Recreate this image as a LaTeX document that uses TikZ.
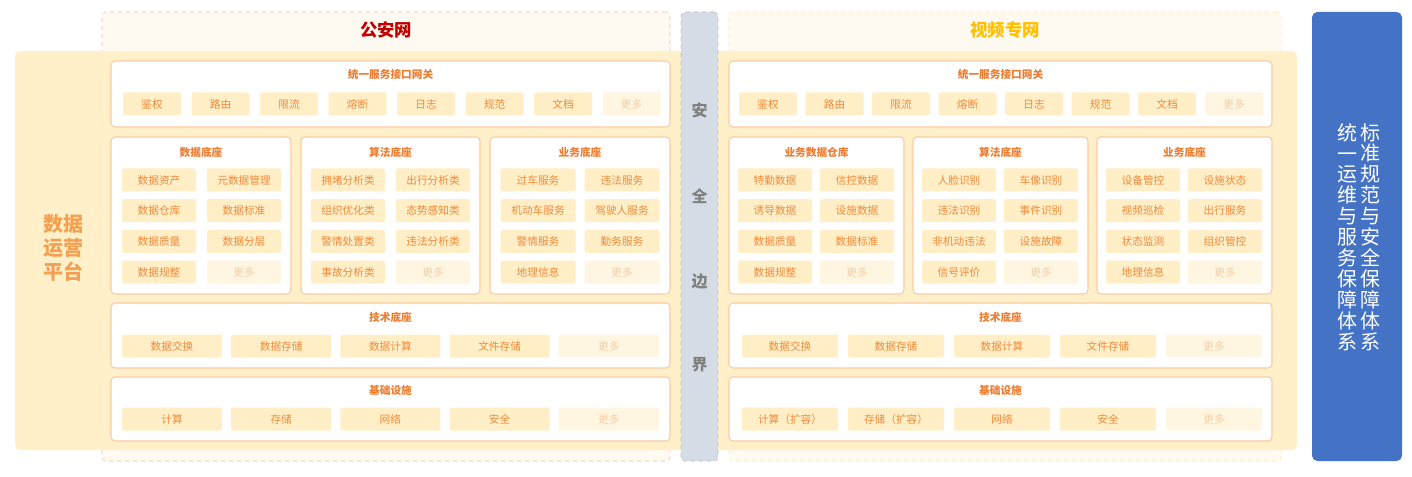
\documentclass[tikz,border=0pt]{standalone}
\usepackage{fontspec}
\setmainfont{Noto Sans CJK SC}
\usetikzlibrary{positioning}
\definecolor{platfill}{HTML}{FFF0CA}
\definecolor{panelline}{HTML}{F8CBA5}
\definecolor{itemfill}{HTML}{FFEEC6}
\definecolor{itemtext}{HTML}{EF8B3B}
\definecolor{morefill}{HTML}{FFF6E1}
\definecolor{moretext}{HTML}{F6CDA5}
\definecolor{titletext}{HTML}{ED7D31}
\definecolor{netfill}{HTML}{FFFAF1}
\definecolor{boundfill}{HTML}{D6DCE5}
\definecolor{stdblue}{HTML}{4472C4}
\def\px{0.75pt}

\begin{document}
\begin{tikzpicture}[
    x=0.75pt, y=-0.75pt,
    panel/.style={draw=panelline, fill=white, rounded corners=3pt, line width=0.8pt, inner sep=0},
    item/.style={fill=itemfill, text=itemtext, rounded corners=1.5pt, minimum height=23*\px, inner sep=0, font=\fontsize{8}{9}\selectfont},
    more/.style={item, fill=morefill, text=moretext},
    ptitle/.style={text=titletext, font=\fontsize{8}{9}\selectfont\bfseries},
    nettitle/.style={font=\fontsize{13}{15}\selectfont\bfseries}
]
\useasboundingbox (0,0) rectangle (1412,477);

% Networks and boundary
\node[draw={rgb,255:red,244;green,184;blue,184}, dashed, fill=netfill, rounded corners=3pt, minimum width=568*\px, minimum height=449*\px, inner sep=0] (netL) at (386,236.5) {};
\node[draw={rgb,255:red,255;green,230;blue,170}, dashed, fill=netfill, rounded corners=3pt, minimum width=552*\px, minimum height=449*\px, inner sep=0] (netR) at (1005,236.5) {};
\node[nettitle, text={rgb,255:red,192;green,0;blue,0}] (netLt) at (386,30) {公安网};
\node[nettitle, text={rgb,255:red,255;green,192;blue,0}] (netRt) at (1005,30) {视频专网};

% Platform
\node[fill=platfill, rounded corners=4pt, minimum width=1282*\px, minimum height=399*\px, inner sep=0] (plat) at (656,250.5) {};
\node[text={rgb,255:red,244;green,160;blue,80}, align=center, font=\fontsize{15}{18}\selectfont\bfseries] (platt) at (63,248) {数据\\运营\\平台};

% Security boundary
\node[draw=gray!50, dashed, fill=boundfill, rounded corners=3pt, minimum width=37*\px, minimum height=449*\px, inner sep=0] (bound) at (699.5,236.5) {};
\foreach \t/\y [count=\i] in {安/110, 全/196, 边/281, 界/365}
    \node[text=gray, font=\fontsize{12}{14}\selectfont\bfseries] (bound-\i) at (699.5,\y) {\t};

% Standards column
\node[fill=stdblue, rounded corners=4pt, minimum width=90*\px, minimum height=449*\px, inner sep=0] (std) at (1357,236.5) {};
\node[text=white, align=center, font=\fontsize{15}{15.7}\selectfont] (stdA) at (1370,237) {标\\准\\规\\范\\与\\安\\全\\保\\障\\体\\系};
\node[text=white, align=center, font=\fontsize{15}{15.7}\selectfont] (stdB) at (1347,237) {统\\一\\运\\维\\与\\服\\务\\保\\障\\体\\系};

% Left side panels
\node[panel, minimum width=559*\px, minimum height=66*\px] (gwL) at (390.5,94) {};
\node[ptitle] (gwLt) at (390.5,74) {统一服务接口网关};
\foreach \t [count=\i] in {鉴权,路由,限流,熔断,日志,规范,文档}
    \node[item, minimum width=58*\px] (gwL-\i) at ({152+68.5*(\i-1)},104) {\t};
\node[more, minimum width=58*\px] (gwL-8) at (631.5,104) {更多};

\node[panel, minimum width=180*\px, minimum height=157*\px] (dataL) at (201,215.5) {};
\node[panel, minimum width=179*\px, minimum height=157*\px] (algoL) at (390.5,215.5) {};
\node[panel, minimum width=180*\px, minimum height=157*\px] (bizL) at (580,215.5) {};
\node[ptitle] (dataLt) at (201,152) {数据底座};
\node[ptitle] (algoLt) at (390.5,152) {算法底座};
\node[ptitle] (bizLt) at (580,152) {业务底座};
\foreach \t [count=\i from 0] in {数据资产,元数据管理,数据仓库,数据标准,数据质量,数据分层,数据规整,更多} {
    \pgfmathtruncatemacro\c{mod(\i,2)}\pgfmathtruncatemacro\r{div(\i,2)}
    \ifnum\i=7 \def\sty{more}\else\def\sty{item}\fi
    \node[\sty, minimum width=74*\px] (dataL-\i) at ({159+85*\c},{180+30.7*\r}) {\t};
}
\foreach \t [count=\i from 0] in {拥堵分析类,出行分析类,组织优化类,态势感知类,警情处置类,违法分析类,事故分析类,更多} {
    \pgfmathtruncatemacro\c{mod(\i,2)}\pgfmathtruncatemacro\r{div(\i,2)}
    \ifnum\i=7 \def\sty{more}\else\def\sty{item}\fi
    \node[\sty, minimum width=74*\px] (algoL-\i) at ({348+85*\c},{180+30.7*\r}) {\t};
}
\foreach \t [count=\i from 0] in {过车服务,违法服务,机动车服务,驾驶人服务,警情服务,勤务服务,地理信息,更多} {
    \pgfmathtruncatemacro\c{mod(\i,2)}\pgfmathtruncatemacro\r{div(\i,2)}
    \ifnum\i=7 \def\sty{more}\else\def\sty{item}\fi
    \node[\sty, minimum width=75*\px] (bizL-\i) at ({538+84*\c},{180+30.7*\r}) {\t};
}

\node[panel, minimum width=559*\px, minimum height=65*\px] (techL) at (390.5,335.5) {};
\node[ptitle] (techLt) at (390.5,317) {技术底座};
\foreach \t [count=\i from 0] in {数据交换,数据存储,数据计算,文件存储,更多} {
    \ifnum\i=4 \def\sty{more}\else\def\sty{item}\fi
    \node[\sty, minimum width=100*\px] (techL-\i) at ({172+109.2*\i},346) {\t};
}
\node[panel, minimum width=559*\px, minimum height=64*\px] (infL) at (390.5,409) {};
\node[ptitle] (infLt) at (390.5,390) {基础设施};
\foreach \t [count=\i from 0] in {计算,存储,网络,安全,更多} {
    \ifnum\i=4 \def\sty{more}\else\def\sty{item}\fi
    \node[\sty, minimum width=100*\px] (infL-\i) at ({172+109.2*\i},419) {\t};
}

% Right side panels
\node[panel, minimum width=543*\px, minimum height=66*\px] (gwR) at (1000.5,94) {};
\node[ptitle] (gwRt) at (1000.5,74) {统一服务接口网关};
\foreach \t [count=\i] in {鉴权,路由,限流,熔断,日志,规范,文档}
    \node[item, minimum width=58*\px] (gwR-\i) at ({768+66.5*(\i-1)},104) {\t};
\node[more, minimum width=58*\px] (gwR-8) at (1234,104) {更多};

\node[panel, minimum width=175*\px, minimum height=157*\px] (dataR) at (816.5,215.5) {};
\node[panel, minimum width=175*\px, minimum height=157*\px] (algoR) at (1000.5,215.5) {};
\node[panel, minimum width=175*\px, minimum height=157*\px] (bizR) at (1184.5,215.5) {};
\node[ptitle] (dataRt) at (816.5,152) {业务数据仓库};
\node[ptitle] (algoRt) at (1000.5,152) {算法底座};
\node[ptitle] (bizRt) at (1184.5,152) {业务底座};
\foreach \t [count=\i from 0] in {特勤数据,信控数据,诱导数据,设施数据,数据质量,数据标准,数据规整,更多} {
    \pgfmathtruncatemacro\c{mod(\i,2)}\pgfmathtruncatemacro\r{div(\i,2)}
    \ifnum\i=7 \def\sty{more}\else\def\sty{item}\fi
    \node[\sty, minimum width=74*\px] (dataR-\i) at ({775+82*\c},{180+30.7*\r}) {\t};
}
\foreach \t [count=\i from 0] in {人脸识别,车像识别,违法识别,事件识别,非机动违法,设施故障,信号评价,更多} {
    \pgfmathtruncatemacro\c{mod(\i,2)}\pgfmathtruncatemacro\r{div(\i,2)}
    \ifnum\i=7 \def\sty{more}\else\def\sty{item}\fi
    \node[\sty, minimum width=74*\px] (algoR-\i) at ({959+82*\c},{180+30.7*\r}) {\t};
}
\foreach \t [count=\i from 0] in {设备管控,设施状态,视频巡检,出行服务,状态监测,组织管控,地理信息,更多} {
    \pgfmathtruncatemacro\c{mod(\i,2)}\pgfmathtruncatemacro\r{div(\i,2)}
    \ifnum\i=7 \def\sty{more}\else\def\sty{item}\fi
    \node[\sty, minimum width=74*\px] (bizR-\i) at ({1143+82*\c},{180+30.7*\r}) {\t};
}

\node[panel, minimum width=543*\px, minimum height=65*\px] (techR) at (1000.5,335.5) {};
\node[ptitle] (techRt) at (1000.5,317) {技术底座};
\foreach \t [count=\i from 0] in {数据交换,数据存储,数据计算,文件存储,更多} {
    \ifnum\i=4 \def\sty{more}\else\def\sty{item}\fi
    \node[\sty, minimum width=96*\px] (techR-\i) at ({790+106*\i},346) {\t};
}
\node[panel, minimum width=543*\px, minimum height=64*\px] (infR) at (1000.5,409) {};
\node[ptitle] (infRt) at (1000.5,390) {基础设施};
\foreach \t [count=\i from 0] in {计算（扩容）,存储（扩容）,网络,安全,更多} {
    \ifnum\i=4 \def\sty{more}\else\def\sty{item}\fi
    \node[\sty, minimum width=96*\px] (infR-\i) at ({790+106*\i},419) {\t};
}
\end{tikzpicture}
\end{document}
